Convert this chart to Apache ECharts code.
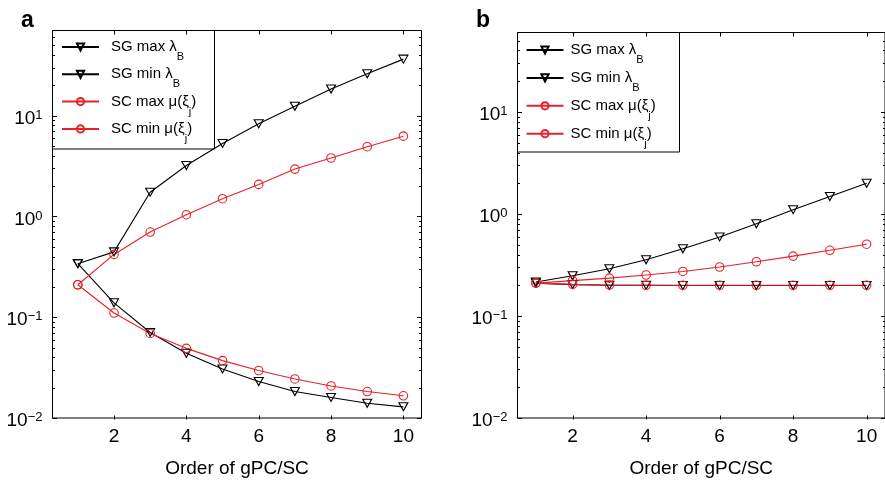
<!DOCTYPE html>
<html>
<head>
<meta charset="utf-8">
<script src="https://cdn.jsdelivr.net/npm/echarts@6.0.0/dist/echarts.min.js"></script>
<style>
  html, body { margin: 0; padding: 0; background: #fff; }
  #chart { width: 885px; height: 483px; }
</style>
</head>
<body>
<div id="chart"></div>
<script>
// Polynomial order on the x axis (shared by both panels)
const orders = [1, 2, 3, 4, 5, 6, 7, 8, 9, 10];

// Series names and their rich-text legend labels
const seriesNames = ['SG max λB', 'SG min λB', 'SC max μ(ξj)', 'SC min μ(ξj)'];
const legendLabels = ['{f|SG max λ}{s|B}', '{f|SG min λ}{s|B}', '{f|SC max μ(ξ}{s|j}{t|)}', '{f|SC min μ(ξ}{s|j}{t|)}'];

// Panel a
const sgMaxA = [0.34, 0.445, 1.74, 3.2, 5.3, 8.3, 12.4, 18.4, 26.0, 36.4];
const sgMinA = [0.34, 0.139, 0.0706, 0.0439, 0.0307, 0.0230, 0.0183, 0.0160, 0.0140, 0.0129];
const scMaxA = [0.21, 0.42, 0.70, 1.04, 1.5, 2.08, 2.95, 3.80, 4.92, 6.26];
const scMinA = [0.21, 0.110, 0.069, 0.0491, 0.0371, 0.0296, 0.0244, 0.0208, 0.0183, 0.0166];

// Panel b
const sgMaxB = [0.215, 0.248, 0.29, 0.355, 0.455, 0.595, 0.80, 1.10, 1.48, 2.0];
const sgMinB = [0.21, 0.203, 0.200, 0.200, 0.199, 0.199, 0.199, 0.199, 0.199, 0.199];
const scMaxB = [0.21, 0.222, 0.235, 0.252, 0.273, 0.302, 0.34, 0.386, 0.44, 0.505];
const scMinB = [0.21, 0.204, 0.201, 0.200, 0.200, 0.200, 0.200, 0.200, 0.200, 0.200];

// Axis ticks and labels
const xTickValues = [2, 4, 6, 8, 10];
const panelLetters = ['a', 'b'];
const xAxisTitle = 'Order of gPC/SC';

const FONT = "'Liberation Sans', Arial, Helvetica, sans-serif";
const RED = '#e8202a';
const BLACK = '#000';

const panels = [
  { grid: { left: 52.5, top: 30.5, width: 369, height: 389 }, xRange: [0.3, 10.5], yRange: [0.01, 70],
    data: [sgMaxA, sgMinA, scMaxA, scMinA], legendLeft: 61, legendTop: 31.5, legendGap: -3.7, textIndent: 7,
    legendBox: [52.5, 30.5, 162, 118.5], letter: [21, 9] },
  { grid: { left: 517.5, top: 32.5, width: 368, height: 387 }, xRange: [0.5, 10.5], yRange: [0.01, 60],
    data: [sgMaxB, sgMinB, scMaxB, scMinB], legendLeft: 525.5, legendTop: 34.5, legendGap: -3.1, textIndent: 2,
    legendBox: [517.5, 32.5, 162, 119.5], letter: [476, 9] }
];

function decadeLabel(v) {
  const e = Math.log10(v);
  const n = Math.round(e);
  if (Math.abs(e - n) > 1e-6) return '';
  return '{b|10}{e|' + (n < 0 ? '\u2212' + (-n) : n) + '}';
}

const downTriangle = 'path://M0,0L10,0L5,9Z';

function lineSeries(name, values, panel, idx) {
  const isSG = idx < 2;
  const color = isSG ? BLACK : RED;
  return {
    type: 'line', name: name, xAxisIndex: panel, yAxisIndex: panel,
    data: orders.map((o, i) => [o, values[i]]),
    symbol: isSG ? downTriangle : 'circle',
    symbolSize: isSG ? [9, 8] : 8.5,
    showSymbol: true, showAllSymbol: true,
    lineStyle: { color: color, width: 1.1 },
    itemStyle: { color: 'rgba(0,0,0,0)', borderColor: color, borderWidth: 1.1 },
    emphasis: { disabled: true },
    animation: false
  };
}

const chart = echarts.init(document.getElementById('chart'), null, { renderer: 'canvas' });

const option = {
  animation: false,
  backgroundColor: '#fff',
  title: panels.map((p, i) => ({
    text: panelLetters[i], left: p.letter[0], top: p.letter[1], padding: 0,
    textStyle: { fontSize: 23, fontWeight: 'bold', color: '#000', fontFamily: FONT }
  })),
  grid: panels.map(p => Object.assign({}, p.grid, { show: true, borderColor: '#000', borderWidth: 1, backgroundColor: 'rgba(0,0,0,0)' })),
  xAxis: panels.map((p, i) => ({
    type: 'value', gridIndex: i, min: p.xRange[0], max: p.xRange[1],
    axisLine: { show: false }, axisTick: { show: false }, splitLine: { show: false },
    axisLabel: {
      customValues: xTickValues,
      formatter: v => (xTickValues.indexOf(v) >= 0 ? String(v) : ''),
      margin: 9, fontSize: 19, color: '#000', fontFamily: FONT
    },
    name: xAxisTitle, nameLocation: 'middle', nameGap: 41,
    nameTextStyle: { fontSize: 19, color: '#000', fontFamily: FONT }
  })),
  yAxis: panels.map((p, i) => ({
    type: 'log', logBase: 10, gridIndex: i, min: p.yRange[0], max: p.yRange[1],
    axisLine: { show: false }, axisTick: { show: false }, splitLine: { show: false }, minorTick: { show: false },
    axisLabel: {
      showMinLabel: true, showMaxLabel: false, margin: 10, formatter: decadeLabel,
      rich: {
        b: { fontSize: 19, lineHeight: 19, padding: [6, 0, 0, 0], color: '#000', fontFamily: FONT },
        e: { fontSize: 13, lineHeight: 13, padding: [0, 0, 1, 0], color: '#000', fontFamily: FONT }
      }
    }
  })),
  legend: panels.map((p, i) => ({
    data: seriesNames, orient: 'vertical', left: p.legendLeft, top: p.legendTop,
    padding: 0, itemGap: p.legendGap, itemWidth: 37, itemHeight: 9, selectedMode: false,
    formatter: n => legendLabels[seriesNames.indexOf(n)],
    textStyle: {
      color: '#000', fontFamily: FONT,
      rich: {
        f: { fontSize: 15, lineHeight: 18, padding: [0, 0, 0, p.textIndent], color: '#000', fontFamily: FONT },
        t: { fontSize: 15, lineHeight: 18, color: '#000', fontFamily: FONT },
        s: { fontSize: 11, lineHeight: 12, padding: [20, 0, 0, 0], color: '#000', fontFamily: FONT }
      }
    }
  })),
  series: [].concat(...panels.map((p, pi) => seriesNames.map((n, si) => lineSeries(n, p.data[si], pi, si))))
};

chart.setOption(option);

// Tick marks (inward, MATLAB style) on all four sides, plus legend frames
function buildDecorations() {
  const els = [];
  const stroke = { stroke: '#000', lineWidth: 1 };
  panels.forEach((p, i) => {
    const g = p.grid;
    const left = g.left, right = g.left + g.width, top = g.top, bottom = g.top + g.height;
    xTickValues.forEach(v => {
      const px = Math.round(chart.convertToPixel({ xAxisIndex: i }, v)) + 0.5;
      els.push({ type: 'line', shape: { x1: px, y1: bottom, x2: px, y2: bottom - 4 }, style: stroke, silent: true });
      els.push({ type: 'line', shape: { x1: px, y1: top, x2: px, y2: top + 4 }, style: stroke, silent: true });
    });
    for (let e = -2; e <= 2; e++) {
      for (let k = 1; k <= 9; k++) {
        const v = k * Math.pow(10, e);
        if (v < p.yRange[0] || v > p.yRange[1] * 0.999) continue;
        const py = Math.round(chart.convertToPixel({ yAxisIndex: i }, v)) + 0.5;
        const len = k === 1 ? 4.5 : 2.5;
        els.push({ type: 'line', shape: { x1: left, y1: py, x2: left + len, y2: py }, style: stroke, silent: true });
        els.push({ type: 'line', shape: { x1: right, y1: py, x2: right - len, y2: py }, style: stroke, silent: true });
      }
    }
    const b = p.legendBox;
    els.push({ type: 'rect', shape: { x: b[0], y: b[1], width: b[2], height: b[3] },
      style: { fill: 'rgba(0,0,0,0)', stroke: '#000', lineWidth: 1 }, silent: true, z: 10 });
  });
  return els;
}

chart.setOption({ graphic: buildDecorations() });
</script>
</body>
</html>
